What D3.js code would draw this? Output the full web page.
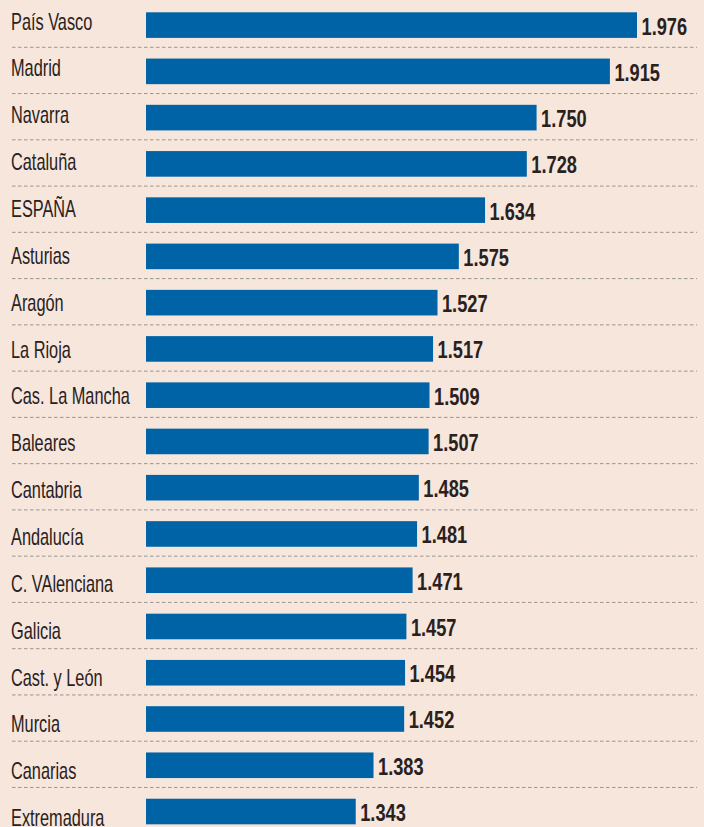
<!DOCTYPE html>
<html><head><meta charset="utf-8">
<script src="https://cdn.jsdelivr.net/npm/d3@7"></script>
<style>
html,body{margin:0;padding:0;background:#f6e6dc;}
svg{display:block;}
</style></head>
<body>
<script>
const regions = ["País Vasco","Madrid","Navarra","Cataluña","ESPAÑA","Asturias","Aragón","La Rioja","Cas. La Mancha","Baleares","Cantabria","Andalucía","C. VAlenciana","Galicia","Cast. y León","Murcia","Canarias","Extremadura"];
const values = [1.976,1.915,1.750,1.728,1.634,1.575,1.527,1.517,1.509,1.507,1.485,1.481,1.471,1.457,1.454,1.452,1.383,1.343];
const valueLabels = ["1.976","1.915","1.750","1.728","1.634","1.575","1.527","1.517","1.509","1.507","1.485","1.481","1.471","1.457","1.454","1.452","1.383","1.343"];

const W = 704, H = 827;
const svg = d3.select("body").append("svg").attr("width", W).attr("height", H);
svg.append("rect").attr("width", W).attr("height", H).attr("fill", "#f6e6dc");

const pitch = 46.26, top0 = 12.3, barH = 25.6;
const gap = pitch - barH;
const y = d3.scaleBand().domain(regions)
  .range([top0 - gap/2, top0 - gap/2 + pitch*regions.length])
  .paddingInner(gap/pitch).paddingOuter(gap/pitch/2);
// label baselines run on a slightly wider pitch than the bars
const yLabel = d3.scaleLinear().domain([0, regions.length - 1]).range([29.6, 29.6 + 46.85*(regions.length - 1)]);
const x = d3.scaleLinear().domain([0.871, 1.976]).range([146, 637]);

const fontFam = "'Liberation Sans',Arial,sans-serif";

// dashed separators
svg.append("g").selectAll("line").data(regions.slice(0, -1)).join("line")
  .attr("x1", 12).attr("x2", 697)
  .attr("y1", d => y(d) + 35)
  .attr("y2", d => y(d) + 35)
  .attr("stroke", "#9a9592").attr("stroke-width", 1).attr("stroke-dasharray", "3.5,2.5");

const rows = svg.append("g").selectAll("g").data(regions).join("g");

rows.append("rect")
  .attr("x", x(0.871)).attr("y", d => y(d))
  .attr("width", (d,i) => x(values[i]) - x(0.871))
  .attr("height", y.bandwidth())
  .attr("fill", "#0063a6");

rows.append("text")
  .attr("transform", (d,i) => `translate(11,${yLabel(i)}) scale(0.68,1)`)
  .attr("font-family", fontFam).attr("font-size", 24)
  .attr("fill", "#2a211c")
  .text(d => d);

rows.append("text")
  .attr("transform", (d,i) => `translate(${x(values[i]) + 4.5},${y(d) + 22.2}) scale(0.76,1)`)
  .attr("font-family", fontFam).attr("font-size", 24).attr("font-weight", "bold")
  .attr("fill", "#2a211c")
  .text((d,i) => valueLabels[i]);
</script>
</body></html>
